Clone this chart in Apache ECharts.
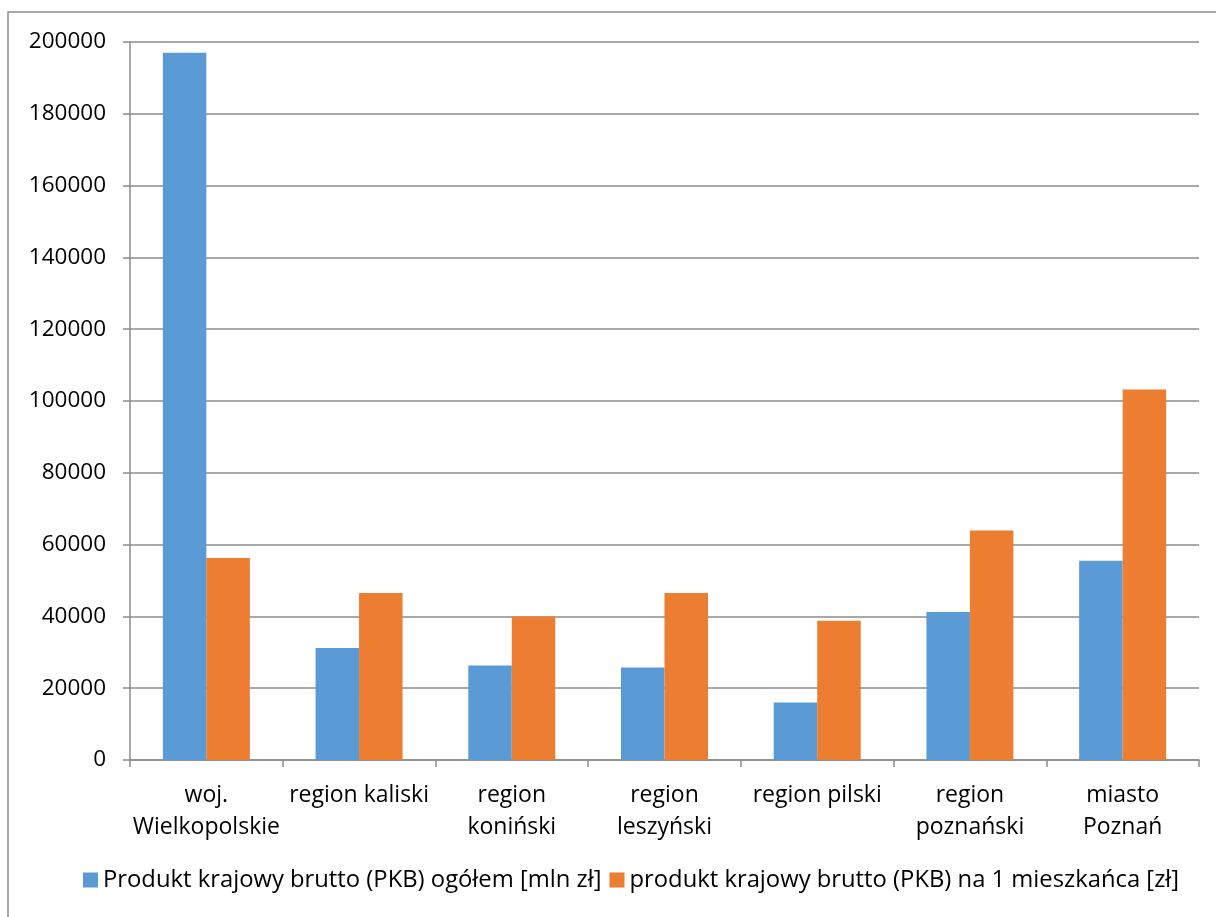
<!DOCTYPE html>
<html>

<head>
	<meta charset="UTF-8">
	<title>PKB Wielkopolska</title>
	<script src="https://cdn.jsdelivr.net/npm/echarts@6/dist/echarts.min.js"></script>
	<style>
		html, body { margin: 0; padding: 0; background: #fff; }
	</style>
</head>

<body>
	<div id="chart1" style="width: 1216px;height: 917px;"></div>
</body>

</html>
<script type="text/javascript">
	// dane
	var categories = ['woj.\nWielkopolskie', 'region kaliski', 'region\nkoniński', 'region\nleszyński',
		'region pilski', 'region\npoznański', 'miasto\nPoznań'];
	var seriesNames = ['Produkt krajowy brutto (PKB) ogółem [mln zł]',
		'produkt krajowy brutto (PKB) na 1 mieszkańca [zł]'];
	var pkbTotal = [197000, 31200, 26300, 25800, 16000, 41200, 55500];
	var pkbPerCapita = [56300, 46500, 40000, 46500, 38800, 63900, 103200];

	var font = '"Open Sans", "Noto Sans", sans-serif';
	var gray = '#8c8c8c';

	var chart1 = echarts.init(document.getElementById("chart1"));
	var option = {
		animation: false,
		textStyle: { fontFamily: font },
		graphic: [{
			type: 'rect',
			shape: { x: 8, y: 12, width: 1230, height: 940 },
			style: { fill: 'none', stroke: gray, lineWidth: 1.5 },
			silent: true
		}],
		grid: { left: 130, right: 17, top: 42, bottom: 157 },
		legend: {
			data: seriesNames,
			top: 863,
			left: 78,
			itemWidth: 15,
			itemHeight: 15,
			itemGap: 8,
			icon: 'rect',
			textStyle: { fontSize: 23.8, color: '#000', fontFamily: font }
		},
		xAxis: {
			type: 'category',
			data: categories,
			axisLine: { lineStyle: { color: gray, width: 1.5 } },
			axisTick: { show: true, length: 7, lineStyle: { color: gray, width: 1.5 } },
			axisLabel: { fontSize: 23, color: '#000', lineHeight: 32, margin: 19, interval: 0, fontFamily: font }
		},
		yAxis: {
			type: 'value',
			min: 0,
			max: 200000,
			interval: 20000,
			axisLine: { show: true, lineStyle: { color: gray, width: 1.5 } },
			axisTick: { show: true, length: 7, lineStyle: { color: gray, width: 1.5 } },
			axisLabel: {
				fontSize: 22.5, color: '#000', margin: 24, fontFamily: font,
				formatter: function (v) { return String(v); }
			},
			splitLine: { lineStyle: { color: gray, width: 1.5 } }
		},
		series: [{
			name: seriesNames[0],
			type: 'bar',
			data: pkbTotal,
			barWidth: 43.5,
			barGap: '0%',
			itemStyle: { color: '#5b9bd5' }
		}, {
			name: seriesNames[1],
			type: 'bar',
			data: pkbPerCapita,
			barWidth: 43.5,
			itemStyle: { color: '#ed7d31' }
		}]
	};
	chart1.setOption(option);
</script>
